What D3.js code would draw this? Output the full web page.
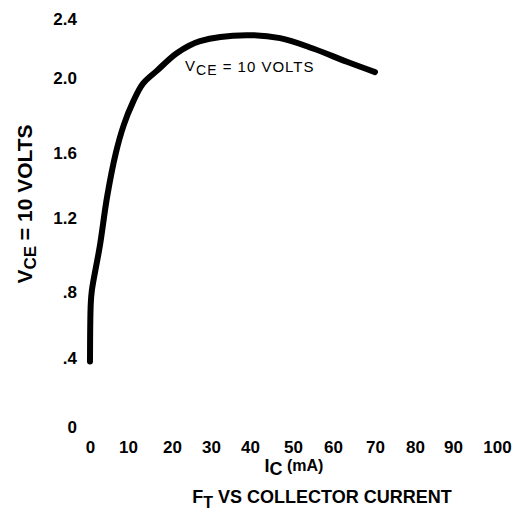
<!DOCTYPE html>
<html>
<head>
<meta charset="utf-8">
<script src="https://cdn.jsdelivr.net/npm/d3@7"></script>
<style>
	body { margin: 0; background: #fff; }
	svg { display: block; font-family: "Liberation Sans", Arial, sans-serif; }
</style>
</head>
<body>
<div id="chart"></div>
<script>
// tick values + labels
var xTicks = [0, 10, 20, 30, 40, 50, 60, 70, 80, 90, 100];
var yTicks = [0, 0.4, 0.8, 1.2, 1.6, 2.0, 2.4];
var yTickLabels = ['0', '.4', '.8', '1.2', '1.6', '2.0', '2.4'];

// the curve (Ic in mA, Ft)
var icValues = [0, 0.2, 0.5, 2.6, 4.5, 6.8, 8.9, 11.1, 13.4, 16.6, 21.3, 27.2, 39.2, 47, 55, 63.3, 70];
var ftValues = [0.38, 0.73, 0.81, 1.05, 1.33, 1.60, 1.75, 1.87, 1.97, 2.05, 2.17, 2.25, 2.29, 2.27, 2.20, 2.11, 2.04];

var width = 529;
var height = 526;

var svg = d3.select('#chart').append('svg')
	.attr('width', width)
	.attr('height', height)
	.append('g');

// the scan is a bit uneven so the scales are piecewise
var scaleX = d3.scaleLinear()
	.domain(xTicks)
	.range([90, 128, 172, 211, 250, 293, 333, 375, 415, 453, 497]);
var scaleY = d3.scaleLinear()
	.domain(yTicks)
	.range([427, 358, 292, 218, 153, 78, 19]);

var points = icValues.map(function(d, i) { return { ic: d, ft: ftValues[i] }; });

var line = d3.line()
	.x(function(d) { return scaleX(d.ic); })
	.y(function(d) { return scaleY(d.ft); })
	.curve(d3.curveCatmullRom.alpha(0.5));

svg.append('path')
	.datum(points)
	.attr('d', line)
	.attr('fill', 'none')
	.attr('stroke', '#000')
	.attr('stroke-width', 6)
	.attr('stroke-linecap', 'round')
	.attr('stroke-linejoin', 'round');

// axes, labels only
var xAxisCall = d3.axisBottom(scaleX)
	.tickValues(xTicks)
	.tickSize(0)
	.tickPadding(0);
var yAxisCall = d3.axisLeft(scaleY)
	.tickValues(yTicks)
	.tickSize(0)
	.tickPadding(0)
	.tickFormat(function(d, i) { return yTickLabels[i]; });

var gx = svg.append('g')
	.attr('id', 'x-axis')
	.attr('transform', 'translate(0, 441)')
	.call(xAxisCall);
var gy = svg.append('g')
	.attr('id', 'y-axis')
	.attr('transform', 'translate(77, 0)')
	.call(yAxisCall);

[gx, gy].forEach(function(g) {
	g.select('.domain').remove();
	g.selectAll('text')
		.attr('font-family', '"Liberation Sans", Arial, sans-serif')
		.attr('font-size', 17)
		.attr('font-weight', 'bold')
		.attr('fill', '#000');
});

// y title
var yTitle = svg.append('text')
	.attr('transform', 'translate(32, 204) rotate(-90)')
	.attr('text-anchor', 'middle')
	.attr('font-size', 21)
	.attr('font-weight', 'bold');
yTitle.append('tspan').text('V');
yTitle.append('tspan').attr('dy', 4).attr('font-size', 17).text('CE');
yTitle.append('tspan').attr('dy', -4).text(' = 10 VOLTS');

// x title
var xTitle = svg.append('text')
	.attr('x', 294)
	.attr('y', 472)
	.attr('text-anchor', 'middle')
	.attr('font-weight', 'bold')
	.attr('font-size', 18);
xTitle.append('tspan').text('I');
xTitle.append('tspan').attr('dy', 3).attr('font-size', 18).text('C');
xTitle.append('tspan').attr('dy', -4).attr('font-size', 16).text(' (mA)');

// chart title
var title = svg.append('text')
	.attr('x', 322)
	.attr('y', 503)
	.attr('text-anchor', 'middle')
	.attr('font-weight', 'bold')
	.attr('font-size', 18);
title.append('tspan').text('F');
title.append('tspan').attr('dy', 5).attr('font-size', 16).text('T');
title.append('tspan').attr('dy', -5).text(' VS COLLECTOR CURRENT');

// annotation on the curve
var note = svg.append('text')
	.attr('x', 185)
	.attr('y', 71)
	.attr('font-size', 15)
	.attr('letter-spacing', 1);
note.append('tspan').text('V');
note.append('tspan').attr('dy', 4).attr('font-size', 14).text('CE');
note.append('tspan').attr('dy', -3).text(' = 10 VOLTS');
</script>
</body>
</html>
